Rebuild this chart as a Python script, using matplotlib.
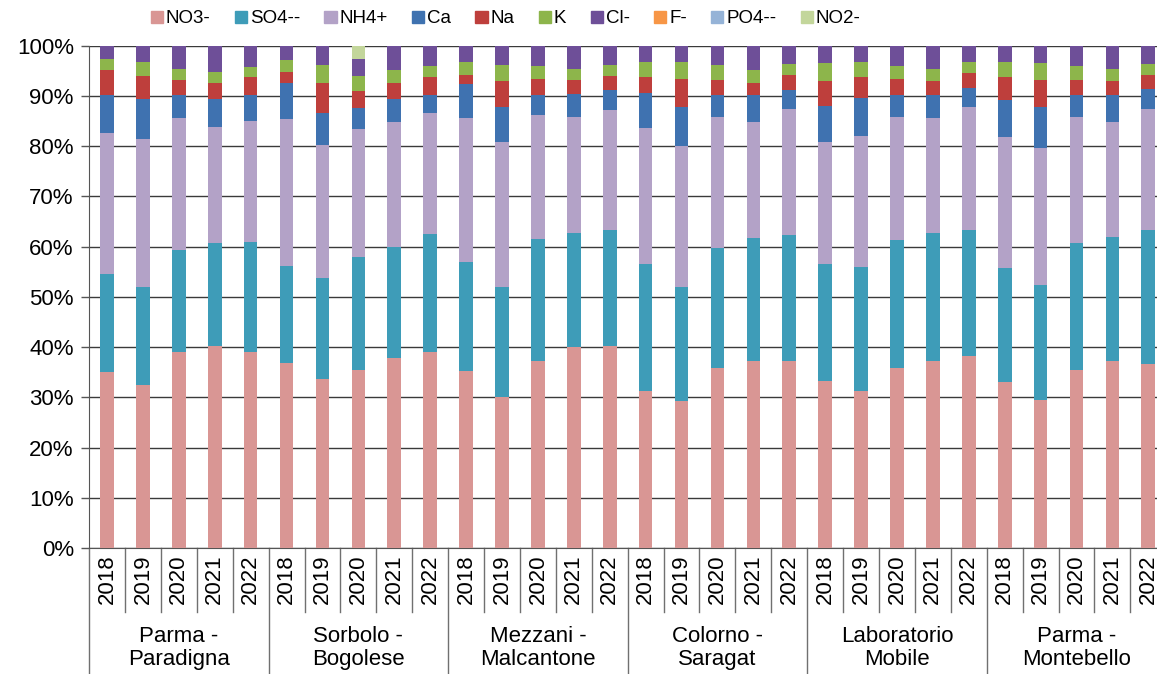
import numpy as np
import matplotlib
matplotlib.use("Agg")
import matplotlib.pyplot as plt
from matplotlib.patches import Patch

plt.rcParams['font.family'] = ['Liberation Sans', 'DejaVu Sans']

# stations and sampling years
stations = ["Parma -\nParadigna", "Sorbolo -\nBogolese", "Mezzani -\nMalcantone",
            "Colorno -\nSaragat", "Laboratorio\nMobile", "Parma -\nMontebello"]
years = ["2018", "2019", "2020", "2021", "2022"]

# percentage share of each ion, one value per bar (station x year)
no3 = [35.0, 32.5, 39.0, 40.3, 39.0, 36.8, 33.7, 35.5, 37.8, 39.0,
       35.2, 30.0, 37.3, 40.0, 40.3, 31.3, 29.3, 35.8, 37.3, 37.2,
       33.3, 31.3, 35.8, 37.3, 38.3, 33.0, 29.5, 35.5, 37.3, 36.7]
so4 = [19.5, 19.5, 20.3, 20.5, 22.0, 19.4, 20.0, 22.5, 22.2, 23.5,
       21.8, 22.0, 24.2, 22.8, 23.0, 25.2, 22.7, 24.0, 24.5, 25.1,
       23.2, 24.7, 25.5, 25.4, 25.0, 22.7, 22.8, 25.2, 24.7, 26.6]
nh4 = [28.1, 29.4, 26.4, 23.1, 24.1, 29.2, 26.6, 25.5, 24.9, 24.1,
       28.6, 28.9, 24.8, 23.1, 24.0, 27.2, 28.1, 26.1, 23.0, 25.2,
       24.4, 26.1, 24.6, 23.0, 24.5, 26.1, 27.3, 25.1, 22.9, 24.2]
ca = [7.6, 8.0, 4.5, 5.5, 5.1, 7.2, 6.4, 4.1, 4.5, 3.6,
      6.8, 7.0, 3.9, 4.5, 3.9, 6.9, 7.8, 4.3, 5.4, 3.7,
      7.1, 7.5, 4.3, 4.5, 3.8, 7.4, 8.3, 4.4, 5.3, 3.9]
na = [4.9, 4.5, 2.9, 3.2, 3.6, 2.2, 5.9, 3.4, 3.2, 3.6,
      1.8, 5.0, 3.2, 2.8, 2.7, 3.2, 5.5, 2.9, 2.4, 3.0,
      4.9, 4.2, 3.2, 2.7, 3.0, 4.6, 5.3, 3.0, 2.7, 2.8]
k = [2.2, 2.8, 2.2, 2.2, 1.9, 2.4, 3.6, 3.0, 2.5, 2.2,
     2.5, 3.3, 2.6, 2.1, 2.3, 2.9, 3.3, 3.1, 2.5, 2.2,
     3.6, 2.9, 2.6, 2.4, 2.1, 2.9, 3.3, 2.8, 2.4, 2.2]
cl = [2.7, 3.3, 4.7, 5.2, 4.3, 2.8, 3.8, 3.3, 4.9, 4.0,
      3.3, 3.8, 4.0, 4.7, 3.8, 3.3, 3.3, 3.8, 4.9, 3.6,
      3.5, 3.3, 4.0, 4.7, 3.3, 3.3, 3.5, 4.0, 4.7, 3.6]
f = [0.0] * 30
po4 = [0.0] * 30
no2 = [0.0] * 30
no2[7] = 2.7

series = [("NO3-", no3, "#D99694"), ("SO4--", so4, "#3E9CB8"), ("NH4+", nh4, "#B3A2C7"),
          ("Ca", ca, "#3F72B0"), ("Na", na, "#BE3F3C"), ("K", k, "#8DB54B"),
          ("Cl-", cl, "#6E4F98"), ("F-", f, "#F79646"), ("PO4--", po4, "#95B3D7"),
          ("NO2-", no2, "#C3D69B")]

values = np.array([s[1] for s in series], dtype=float)
shares = values / values.sum(axis=0) * 100

fig = plt.figure(figsize=(11.57, 6.74), dpi=100)
ax = fig.add_axes([0.077, 0.187, 0.931, 0.745])

n = shares.shape[1]
x = np.arange(n)
bottom = np.zeros(n)
for (name, _, color), vals in zip(series, shares):
    ax.bar(x, vals, width=0.38, bottom=bottom, color=color, label=name, zorder=3)
    bottom += vals

ax.set_xlim(-0.5, n - 0.5)
ax.set_ylim(0, 100)
ax.set_yticks(np.arange(0, 101, 10))
ax.set_yticklabels([f"{v}%" for v in range(0, 101, 10)], fontsize=16)
ax.tick_params(axis='y', length=6, width=1, color="#555555", pad=5)
ax.set_xticks([])
ax.grid(axis='y', color="#3a3a3a", lw=1, zorder=0)
for side in ["top", "right"]:
    ax.spines[side].set_visible(False)
ax.spines["left"].set_color("#555555")
ax.spines["bottom"].set_color("#555555")

# two-level category axis below the bars
tr = ax.get_xaxis_transform()
for i in range(n + 1):
    xs = i - 0.5
    low = -0.252 if i % 5 == 0 else -0.128
    ax.plot([xs, xs], [0, low], transform=tr, color="#707070", lw=1, clip_on=False)
for i in range(n):
    ax.text(i, -0.062, years[i % 5], transform=tr, rotation=90, ha='center', va='center',
            fontsize=16)
for g, name in enumerate(stations):
    ax.text(g * 5 + 2, -0.2, name, transform=tr, ha='center', va='center',
            fontsize=16, linespacing=1.12)

handles = [Patch(color=c, label=nm) for nm, _, c in series]
fig.legend(handles=handles, loc='center', bbox_to_anchor=(0.437, 0.972), ncol=10,
           frameon=False, fontsize=13.5, handlelength=0.65, handleheight=0.65,
           handletextpad=0.15, columnspacing=1.3)

fig.savefig("out.png", dpi=100)
